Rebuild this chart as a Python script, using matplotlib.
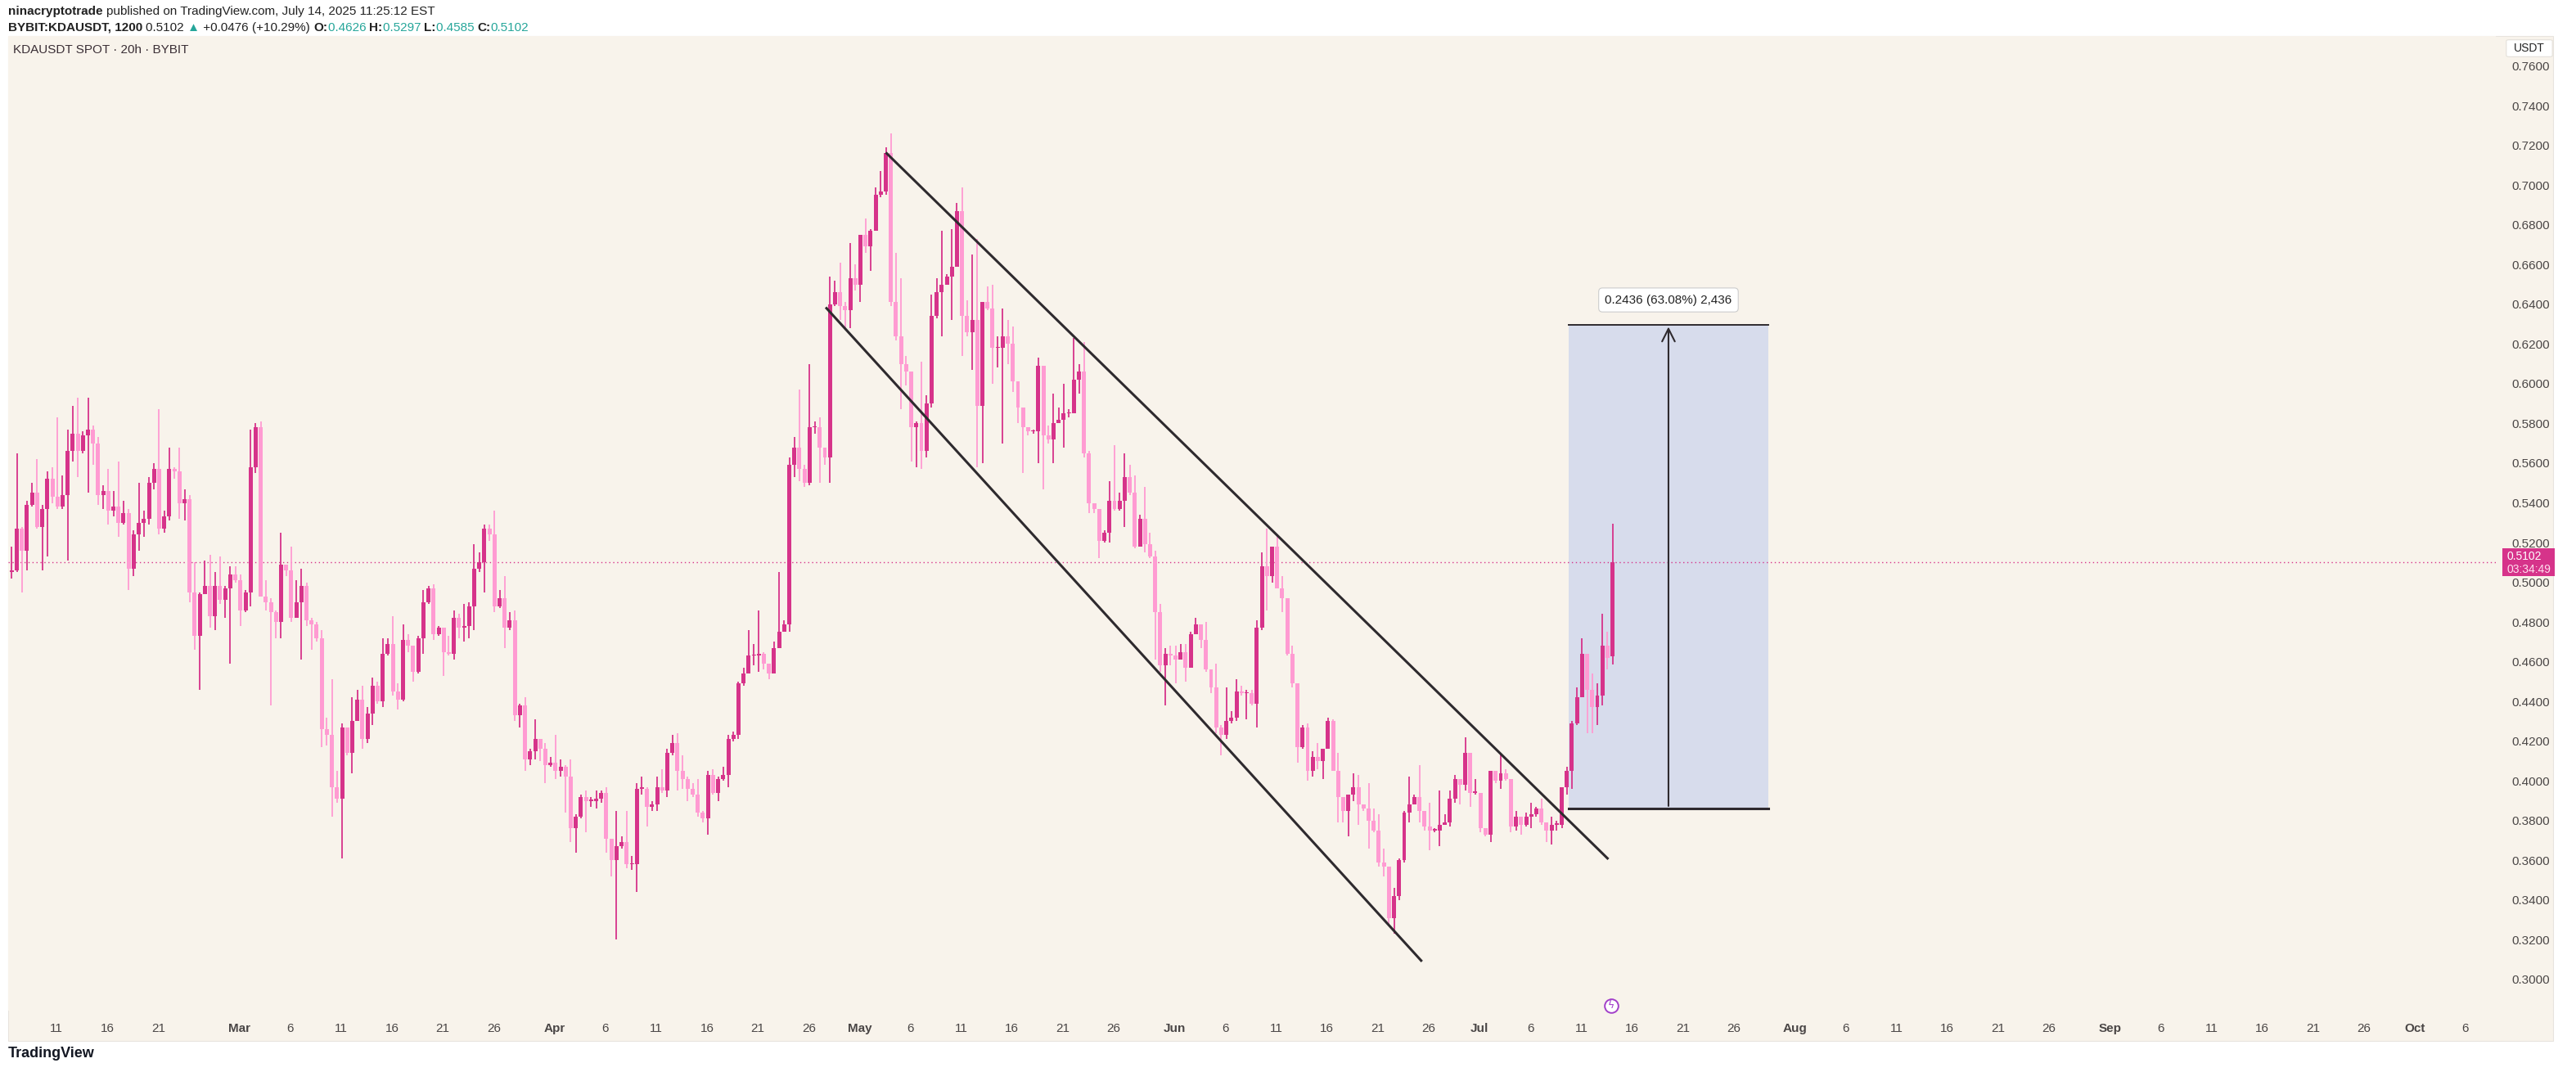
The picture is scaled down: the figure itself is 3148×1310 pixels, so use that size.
import matplotlib
matplotlib.use("Agg")
import matplotlib.pyplot as plt
import matplotlib.dates as mdates
from matplotlib.patches import Rectangle, FancyBboxPatch
import datetime as dt

# ---------------- data ----------------
closes = [.506,.527,.516,.539,.545,.528,.537,.552,.543,.538,.544,.566,.575,.566,.574,.577,.570,.544,.546,.536,
.538,.530,.535,.507,.524,.530,.532,.550,.557,.527,.533,.557,.556,.540,.542,.495,.473,.494,.498,.483,
.498,.491,.497,.504,.501,.486,.495,.558,.578,.493,.490,.485,.480,.509,.506,.482,.490,.498,.481,.479,
.472,.426,.423,.397,.391,.427,.414,.430,.441,.421,.434,.448,.440,.464,.469,.445,.441,.471,.468,.455,
.472,.490,.497,.474,.477,.465,.464,.482,.477,.478,.488,.507,.510,.527,.524,.488,.492,.477,.481,.433,
.438,.411,.415,.421,.416,.408,.409,.405,.407,.402,.376,.382,.392,.390,.390,.391,.394,.371,.360,.367,
.369,.358,.358,.396,.396,.387,.388,.397,.395,.414,.419,.405,.401,.396,.393,.384,.381,.403,.394,.401,
.403,.421,.423,.449,.454,.463,.463,.464,.459,.454,.467,.475,.479,.559,.568,.557,.550,.578,.578,.568,
.563,.640,.646,.639,.637,.653,.650,.675,.669,.677,.695,.697,.716,.641,.624,.610,.606,.578,.580,.566,
.590,.634,.646,.650,.654,.659,.687,.634,.626,.632,.589,.641,.638,.618,.618,.624,.620,.601,.588,.578,
.576,.576,.609,.574,.572,.580,.582,.585,.585,.602,.606,.565,.540,.537,.521,.525,.541,.537,.541,.553,
.545,.518,.532,.519,.513,.485,.458,.464,.463,.461,.465,.457,.474,.479,.471,.456,.447,.427,.423,.430,
.432,.445,.444,.444,.439,.477,.508,.503,.518,.497,.492,.464,.449,.417,.427,.405,.412,.410,.416,.430,
.405,.392,.385,.393,.397,.388,.386,.380,.375,.359,.357,.331,.342,.360,.384,.388,.392,.385,.377,.375,
.375,.378,.379,.391,.401,.398,.414,.394,.394,.376,.373,.405,.400,.404,.401,.377,.382,.378,.382,.383,
.386,.379,.375,.378,.378,.397,.405,.429,.442,.464,.446,.437,.443,.468,.462,.5102]
highs = [.518,.565,.528,.541,.550,.562,.539,.556,.558,.583,.554,.577,.589,.593,.576,.593,.579,.573,.549,.557,
.546,.561,.541,.537,.526,.550,.536,.553,.560,.587,.536,.568,.558,.568,.547,.544,.510,.495,.511,.514,
.505,.513,.498,.508,.508,.504,.496,.577,.580,.581,.501,.492,.486,.525,.509,.518,.501,.507,.500,.482,
.480,.476,.432,.451,.405,.429,.427,.442,.446,.448,.437,.452,.450,.472,.472,.483,.449,.479,.474,.468,
.473,.496,.498,.499,.478,.477,.473,.486,.484,.489,.490,.519,.515,.529,.529,.536,.496,.503,.485,.486,
.439,.442,.416,.431,.421,.419,.412,.423,.411,.408,.411,.383,.393,.395,.392,.395,.395,.397,.371,.385,
.372,.385,.362,.399,.402,.397,.390,.402,.406,.416,.423,.424,.413,.402,.399,.401,.385,.405,.406,.402,
.407,.423,.425,.450,.457,.476,.469,.486,.465,.459,.470,.505,.481,.563,.573,.597,.559,.610,.581,.583,
.568,.654,.652,.661,.641,.671,.660,.675,.683,.678,.699,.707,.719,.726,.666,.653,.614,.606,.581,.611,
.594,.645,.653,.677,.655,.678,.691,.699,.642,.665,.673,.641,.649,.650,.624,.638,.632,.629,.601,.588,
.578,.577,.613,.609,.579,.595,.588,.600,.587,.623,.610,.621,.566,.540,.537,.526,.551,.569,.545,.565,
.559,.554,.534,.548,.525,.516,.489,.467,.468,.468,.469,.469,.475,.482,.479,.480,.456,.459,.428,.447,
.435,.451,.448,.446,.446,.481,.515,.527,.518,.524,.503,.492,.468,.449,.428,.429,.415,.419,.416,.432,
.431,.414,.392,.393,.404,.403,.388,.399,.386,.383,.366,.357,.346,.361,.385,.402,.393,.408,.385,.389,
.376,.395,.383,.395,.403,.401,.422,.414,.401,.394,.376,.405,.405,.414,.406,.401,.385,.382,.384,.389,
.387,.391,.379,.382,.380,.397,.407,.430,.447,.472,.464,.454,.449,.484,.475,.5297]
lows = [.502,.505,.495,.506,.538,.527,.506,.513,.540,.537,.537,.511,.561,.553,.565,.545,.559,.539,.537,.529,
.533,.523,.529,.496,.503,.516,.523,.529,.547,.524,.525,.531,.552,.532,.531,.490,.466,.446,.494,.477,
.476,.489,.482,.459,.500,.478,.485,.488,.555,.493,.486,.438,.472,.472,.503,.480,.482,.461,.478,.466,
.470,.417,.418,.382,.389,.361,.413,.404,.430,.416,.419,.428,.439,.437,.463,.443,.436,.440,.465,.450,
.454,.464,.489,.471,.473,.453,.463,.461,.472,.470,.472,.476,.505,.495,.521,.485,.487,.467,.476,.430,
.427,.405,.408,.411,.410,.399,.407,.401,.402,.384,.369,.364,.381,.374,.387,.386,.389,.364,.352,.320,
.366,.356,.355,.344,.393,.377,.385,.385,.394,.392,.413,.395,.396,.390,.392,.382,.379,.373,.393,.390,
.400,.397,.420,.421,.448,.454,.458,.455,.456,.451,.454,.467,.475,.475,.553,.551,.548,.549,.575,.550,
.559,.550,.639,.632,.627,.628,.647,.641,.666,.657,.677,.694,.695,.639,.622,.587,.599,.561,.558,.557,
.563,.588,.633,.624,.650,.632,.659,.614,.624,.607,.558,.560,.637,.600,.608,.570,.610,.596,.580,.555,
.574,.575,.560,.547,.570,.560,.580,.568,.583,.585,.595,.563,.535,.535,.512,.520,.520,.536,.536,.528,
.544,.517,.518,.515,.512,.461,.455,.438,.458,.449,.461,.450,.457,.474,.467,.455,.444,.424,.413,.421,
.429,.430,.443,.431,.438,.427,.476,.486,.500,.497,.485,.463,.447,.409,.416,.400,.402,.406,.401,.416,
.405,.379,.379,.372,.390,.378,.385,.366,.374,.357,.352,.328,.323,.340,.359,.379,.388,.379,.375,.365,
.374,.367,.378,.377,.389,.388,.395,.387,.393,.374,.372,.369,.399,.396,.400,.374,.375,.373,.377,.376,
.382,.378,.369,.368,.375,.376,.393,.396,.428,.442,.424,.424,.428,.438,.456,.4585]
first_open = 0.505
last_open = 0.4626

y_ticks = [0.30,0.32,0.34,0.36,0.38,0.40,0.42,0.44,0.46,0.48,0.50,0.52,0.54,0.56,0.58,0.60,0.62,0.64,0.66,0.68,0.70,0.72,0.74,0.76]
x_tick_dates = ["2025-02-11","2025-02-16","2025-02-21","2025-03-01","2025-03-06","2025-03-11","2025-03-16","2025-03-21","2025-03-26",
"2025-04-01","2025-04-06","2025-04-11","2025-04-16","2025-04-21","2025-04-26","2025-05-01","2025-05-06","2025-05-11","2025-05-16",
"2025-05-21","2025-05-26","2025-06-01","2025-06-06","2025-06-11","2025-06-16","2025-06-21","2025-06-26","2025-07-01","2025-07-06",
"2025-07-11","2025-07-16","2025-07-21","2025-07-26","2025-08-01","2025-08-06","2025-08-11","2025-08-16","2025-08-21","2025-08-26",
"2025-09-01","2025-09-06","2025-09-11","2025-09-16","2025-09-21","2025-09-26","2025-10-01","2025-10-06"]
x_tick_labels = ["11","16","21","Mar","6","11","16","21","26","Apr","6","11","16","21","26","May","6","11","16","21","26",
"Jun","6","11","16","21","26","Jul","6","11","16","21","26","Aug","6","11","16","21","26","Sep","6","11","16","21","26","Oct","6"]

last_price = 0.5102
box_low, box_high = 0.3862, 0.6298
upper_line = (("2025-05-03 16:00", 0.716), ("2025-07-13 14:00", 0.361))
lower_line = (("2025-04-27 18:00", 0.638), ("2025-06-25 06:00", 0.3095))
box_dates = ("2025-07-09 18:00", "2025-07-29 10:00")
event_date = "2025-07-13 22:00"

# ---------------- figure ----------------
W, H = 3148, 1310
fig = plt.figure(figsize=(W/100, H/100), dpi=100, facecolor="white")
bg = "#F8F3EB"
fig.patches.append(Rectangle((10/W, 1-1272/H), 3110/W, 1228/H, transform=fig.transFigure,
                             facecolor=bg, edgecolor="#E8E4DE", lw=0.8, zorder=-5))
ax = fig.add_axes([10/W, 1-1235/H, 3040/W, 1191/H])
ax.set_zorder(1)
ax.set_facecolor(bg)
for s in ax.spines.values():
    s.set_visible(False)

t0 = dt.datetime(2025, 2, 6, 14, 0)
n = len(closes)
times = [t0 + dt.timedelta(hours=12*i) for i in range(n)]
x = mdates.date2num(times)
opens = [first_open] + closes[:-1]
opens[-1] = last_open
dark, light = "#D6338A", "#FF9BD2"
cols = [dark if c >= o else light for o, c in zip(opens, closes)]
ax.vlines(x, lows, highs, colors=cols, lw=1.3, zorder=3)
bottoms = [min(o, c) for o, c in zip(opens, closes)]
heights = [max(abs(c-o), 0.0006) for o, c in zip(opens, closes)]
ax.bar(x, heights, bottom=bottoms, width=0.4, color=cols, zorder=4, linewidth=0)

ax.set_xlim(mdates.date2num(t0) - 0.35, mdates.date2num(t0) + 244.4)
ax.set_ylim(0.2843, 0.7751)

for (a, pa), (b, pb) in (upper_line, lower_line):
    ax.plot(mdates.date2num([dt.datetime.fromisoformat(a), dt.datetime.fromisoformat(b)]), [pa, pb],
            color="#2E2A2E", lw=2.2, zorder=5)

bx0, bx1 = mdates.date2num([dt.datetime.fromisoformat(d) for d in box_dates])
ax.add_patch(Rectangle((bx0, box_low), bx1-bx0, box_high-box_low, facecolor="#D7DCEC", edgecolor="none", zorder=1))
ax.plot([bx0, bx1], [box_low, box_low], color="#2E2A2E", lw=2.2, zorder=5)
ax.plot([bx0, bx1], [box_high, box_high], color="#2E2A2E", lw=1.4, zorder=5)
bxm = (bx0 + bx1) / 2
ax.annotate("", xy=(bxm, box_high), xytext=(bxm, box_low),
            arrowprops=dict(arrowstyle="->", color="#2E2A2E", lw=1.5, mutation_scale=28), zorder=6)
ax.text(bxm, box_high + 0.0095, "0.2436 (63.08%) 2,436", ha="center", va="bottom", fontsize=11,
        color="#222", family="Liberation Sans",
        bbox=dict(boxstyle="round,pad=0.5,rounding_size=0.3", fc="white", ec="#CCCCCC", lw=0.8), zorder=7)

ax.axhline(last_price, color="#D6338A", lw=1, ls=(0, (1, 2.5)), zorder=2)

ax.yaxis.tick_right()
ax.set_yticks(y_ticks)
ax.set_yticklabels([f"{v:.4f}" for v in y_ticks], fontsize=11, color="#4A4646", family="Liberation Sans")
ax.tick_params(axis="y", length=0, pad=14)
ax.set_xticks(mdates.date2num([dt.datetime.fromisoformat(d) for d in x_tick_dates]))
ax.set_xticklabels(x_tick_labels, fontsize=11, color="#4A4646", family="Liberation Sans")
ax.tick_params(axis="x", length=0, pad=11)
for lab in ax.get_xticklabels():
    if lab.get_text().isalpha():
        lab.set_fontweight("bold")

ax.plot([mdates.date2num(dt.datetime.fromisoformat(event_date))], [0.2868], marker="o", ms=12, mfc="white",
        mec="#A23FC9", mew=1.4, zorder=6, clip_on=False)
ax.text(mdates.date2num(dt.datetime.fromisoformat(event_date)), 0.2868, "ϟ", color="#A23FC9", fontsize=9,
        ha="center", va="center", zorder=7, clip_on=False)

fig.canvas.draw()
r = fig.canvas.get_renderer()

ytag = ax.transData.transform((0, last_price))[1]
fy = ytag / H
fig.patches.append(Rectangle((3058/W, fy - 17/H), 64/W, 34/H, transform=fig.transFigure,
                             facecolor="#D6338A", edgecolor="none", zorder=8))
fig.text(3063/W, fy + 7/H, "0.5102", fontsize=10, color="white", va="center", family="Liberation Sans", zorder=9)
fig.text(3063/W, fy - 9/H, "03:34:49", fontsize=10, color="#FFE0EE", va="center", family="Liberation Sans", zorder=9)

fig.patches.append(FancyBboxPatch((3066/W, 1-68/H), 50/W, 18/H, boxstyle="round,pad=0.001",
                                  transform=fig.transFigure, facecolor="white", edgecolor="#E4E0DA", lw=0.8, zorder=8))
fig.text(3091/W, 1-59/H, "USDT", fontsize=10, color="#222", ha="center", va="center", family="Liberation Sans", zorder=9)

def run(parts, y, size):
    xpos = 10
    for txt, c, w in parts:
        t = fig.text(xpos/W, 1-y/H, txt, fontsize=size, color=c, fontweight=w, va="center",
                     family=["Liberation Sans", "DejaVu Sans"])
        xpos += t.get_window_extent(renderer=r).width

run([("ninacryptotrade ", "#222", "bold"), ("published on TradingView.com, July 14, 2025 11:25:12 EST", "#222", "normal")], 14, 11)
run([("BYBIT:KDAUSDT, 1200 ", "#222", "bold"), ("0.5102 ", "#222", "normal"), ("▲", "#26A69A", "normal"),
     (" +0.0476 (+10.29%) ", "#222", "normal"), ("O:", "#222", "bold"), ("0.4626 ", "#26A69A", "normal"),
     ("H:", "#222", "bold"), ("0.5297 ", "#26A69A", "normal"), ("L:", "#222", "bold"), ("0.4585 ", "#26A69A", "normal"),
     ("C:", "#222", "bold"), ("0.5102", "#26A69A", "normal")], 34, 11)
fig.text(16/W, 1-61/H, "KDAUSDT SPOT · 20h · BYBIT", fontsize=11, color="#3A2E35", va="center", family="Liberation Sans")
fig.text(10/W, 1-1288/H, "TradingView", fontsize=13, fontweight="bold", color="#131722", va="center", family="Liberation Sans")

fig.savefig("out.png", dpi=100, facecolor="white")
